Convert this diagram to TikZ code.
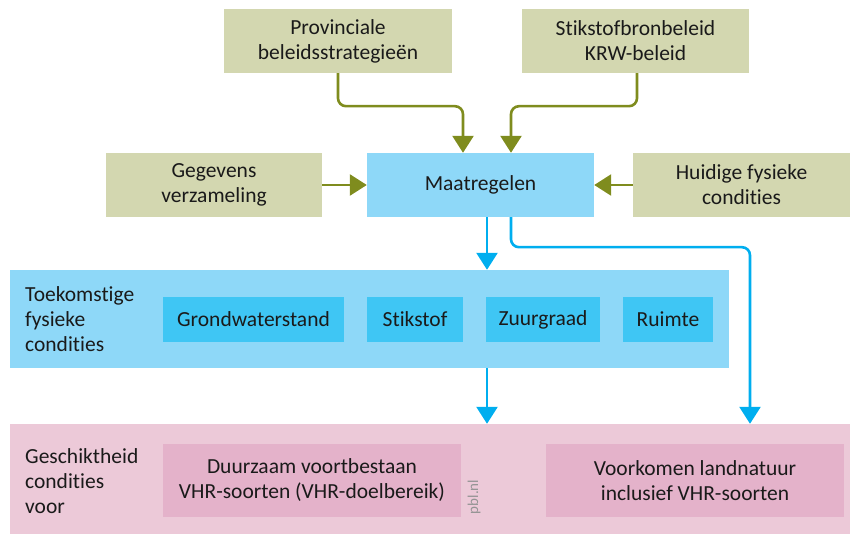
\documentclass[tikz,border=0pt]{standalone}
\usepackage{fontspec}
\setmainfont{Carlito}[Ligatures={NoCommon}]
\usetikzlibrary{arrows.meta}
\definecolor{gbox}{HTML}{D3D7B0}
\definecolor{garr}{HTML}{7F8C1E}
\definecolor{lblue}{HTML}{8ED8F8}
\definecolor{mblue}{HTML}{3FC6F4}
\definecolor{barr}{HTML}{00AEEF}
\definecolor{lpink}{HTML}{ECC9D8}
\definecolor{dpink}{HTML}{E4B2CA}
\definecolor{txt}{HTML}{1A1A1A}
\tikzset{
  box/.style={inner sep=0pt, align=center, text=txt, font=\fontsize{21.5}{25}\selectfont},
  gbx/.style={box, fill=gbox, minimum height=64pt},
  mbx/.style={box, fill=mblue, minimum height=45pt},
  pbx/.style={box, fill=dpink, minimum height=73pt, minimum width=298pt},
  garrow/.style={draw=garr, line width=2.6pt, rounded corners=8pt, -{Triangle[width=21pt,length=17pt]}},
  barrow/.style={draw=barr, line width=2.6pt, rounded corners=8pt, -{Triangle[width=21pt,length=17pt]}},
  lbl/.style={inner sep=0pt, align=left, anchor=west, text=txt, font=\fontsize{21.5}{25}\selectfont}
}
\begin{document}
\begin{tikzpicture}[x=1pt,y=1pt]
\useasboundingbox (0,0) rectangle (850,-534);
% top row
\node[gbx, minimum width=228pt] (prov) at (338,-41) {Provinciale\\beleidsstrategieën};
\node[gbx, minimum width=227pt] (stik) at (635.5,-41) {Stikstofbronbeleid\\KRW-beleid};
% middle row
\node[gbx, minimum width=216pt] (geg) at (214,-185) {Gegevens\\verzameling};
\node[box, fill=lblue, minimum width=227pt, minimum height=64pt] (maat) at (480.5,-185) {Maatregelen};
\node[gbx, minimum width=217pt] (huid) at (741.5,-185) {Huidige fysieke\\condities};
% toekomstige
\node[fill=lblue, minimum width=719pt, minimum height=98pt, inner sep=0pt] (toek) at (369.5,-319) {};
\node[lbl] (toektxt) at (25,-319) {Toekomstige\\fysieke\\condities};
\node[mbx, minimum width=181pt] (grond) at (253.5,-319.5) {Grondwaterstand};
\node[mbx, minimum width=96pt] (stof) at (415,-319.5) {Stikstof};
\node[mbx, minimum width=114pt] (zuur) at (543,-319.5) {Zuurgraad};
\node[mbx, minimum width=90pt] (ruim) at (668,-319.5) {Ruimte};
% geschiktheid
\node[fill=lpink, minimum width=840pt, minimum height=110pt, inner sep=0pt] (gesch) at (430,-479) {};
\node[lbl] (geschtxt) at (25,-481) {Geschiktheid\\condities\\voor};
\node[pbx] (duur) at (312,-480.5) {Duurzaam voortbestaan\\VHR-soorten (VHR-doelbereik)};
\node[pbx] (voor) at (695,-480.5) {Voorkomen landnatuur\\inclusief VHR-soorten};
\node[rotate=90, text=black!42, font=\fontsize{15}{17}\selectfont, inner sep=0pt] (pbl) at (474,-497) {pbl.nl};
% connectors
\coordinate (xa) at (487,0);
\coordinate (xb) at (750,0);
\draw[garrow] (prov.south) -- ++(0,-33) -| ([xshift=-17.5pt]maat.north);
\draw[garrow] ([xshift=1.5pt]stik.south) -- ++(0,-33) -| ([xshift=30.5pt]maat.north);
\draw[garrow] (geg.east) -- (maat.west);
\draw[garrow] (huid.west) -- (maat.east);
\draw[barrow] (maat.south -| xa) -- (toek.north -| xa);
\draw[barrow] (toek.south -| xa) -- (gesch.north -| xa);
\draw[barrow] ([xshift=30.5pt]maat.south) -- ++(0,-30) -| (gesch.north -| xb);
\end{tikzpicture}
\end{document}
